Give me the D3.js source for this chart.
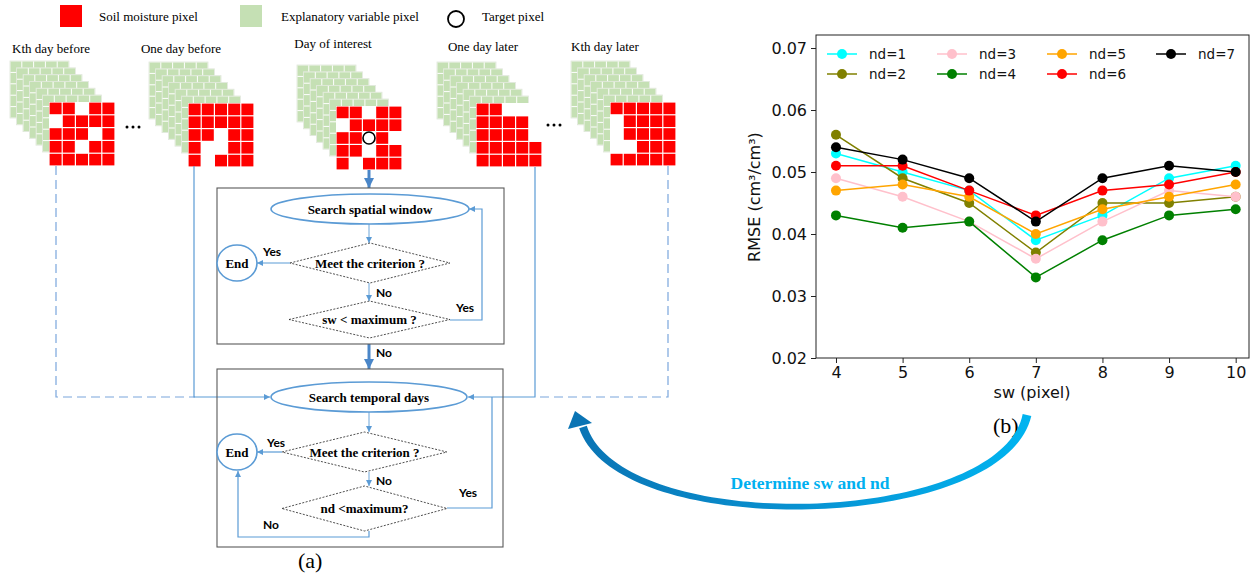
<!DOCTYPE html>
<html>
<head>
<meta charset="utf-8">
<script src="https://cdn.jsdelivr.net/npm/d3@7"></script>
<style>
  body { margin: 0; background: #fff; }
  svg { display: block; }
</style>
</head>
<body>
<svg id="fig" width="1252" height="578"></svg>
<script>
// ---- data for panel (b)
const sw = [4, 5, 6, 7, 8, 9, 10];
const ndLabels = ["nd=1", "nd=2", "nd=3", "nd=4", "nd=5", "nd=6", "nd=7"];
const ndColors = ["#00ffff", "#808000", "#ffc0cb", "#008000", "#ffa500", "#ff0000", "#000000"];
const rmseNd1 = [0.053, 0.050, 0.047, 0.039, 0.043, 0.049, 0.051];
const rmseNd2 = [0.056, 0.049, 0.045, 0.037, 0.045, 0.045, 0.046];
const rmseNd3 = [0.049, 0.046, 0.042, 0.036, 0.042, 0.047, 0.046];
const rmseNd4 = [0.043, 0.041, 0.042, 0.033, 0.039, 0.043, 0.044];
const rmseNd5 = [0.047, 0.048, 0.046, 0.040, 0.044, 0.046, 0.048];
const rmseNd6 = [0.051, 0.051, 0.047, 0.043, 0.047, 0.048, 0.050];
const rmseNd7 = [0.054, 0.052, 0.049, 0.042, 0.049, 0.051, 0.050];
const yTicks = [0.02, 0.03, 0.04, 0.05, 0.06, 0.07];

// ---- data for panel (a)
const dayLabels = ["Kth day before", "One day before", "Day of interest", "One day later", "Kth day later"];
// 1 = soil moisture pixel, 0 = empty
const smPatterns = [
  ["11011", "01111", "11101", "11011", "11111"],
  ["11111", "11111", "11011", "10011", "10111"],
  ["11011", "01111", "11010", "11011", "10111"],
  ["11000", "11110", "11110", "11111", "11111"],
  ["11111", "01111", "01111", "00111", "11111"]
];

const svg = d3.select("#fig");
const defs = svg.append("defs");
const blue = "#5b9bd5";
const serif = "'Liberation Serif', 'Times New Roman', serif";
const sans = "'DejaVu Sans', sans-serif";

defs.append("marker").attr("id", "ah")
  .attr("viewBox", "0 0 10 10").attr("refX", 10).attr("refY", 5)
  .attr("markerWidth", 6).attr("markerHeight", 6).attr("markerUnits", "userSpaceOnUse")
  .attr("orient", "auto")
  .append("path").attr("d", "M0,0L10,5L0,10z").attr("fill", blue);
defs.append("marker").attr("id", "ahBig")
  .attr("viewBox", "0 0 10 10").attr("refX", 10).attr("refY", 5)
  .attr("markerWidth", 11).attr("markerHeight", 10).attr("markerUnits", "userSpaceOnUse")
  .attr("orient", "auto")
  .append("path").attr("d", "M0,0L10,5L0,10z").attr("fill", "#4a86c8");

const line = d3.line();

// ================= panel (a)
const a = svg.append("g");

// legend on top
a.append("rect").attr("x", 60).attr("y", 5).attr("width", 22).attr("height", 22).attr("fill", "#ff0000");
a.append("rect").attr("x", 240).attr("y", 5).attr("width", 22).attr("height", 22).attr("fill", "#c5e0b4");
a.append("circle").attr("cx", 456).attr("cy", 19).attr("r", 8)
  .attr("fill", "none").attr("stroke", "#000").attr("stroke-width", 1.8);
a.selectAll("text.leg").data([[99, "Soil moisture pixel"], [281, "Explanatory variable pixel"], [482, "Target pixel"]])
  .join("text").attr("class", "leg")
  .attr("x", d => d[0]).attr("y", 21)
  .style("font", `13px ${serif}`).text(d => d[1]);

const labelX = [51, 181, 333, 483, 605];
const labelY = [53, 53, 48, 51, 51];
a.selectAll("text.day").data(dayLabels).join("text").attr("class", "day")
  .attr("x", (d, i) => labelX[i]).attr("y", (d, i) => labelY[i])
  .attr("text-anchor", "middle")
  .style("font", `13px ${serif}`).text(d => d);

const stackX = [49, 188, 336, 476, 610];
const stackY = [102, 103, 106, 103, 102];
const gW = 59, gH = 57, rW = 66, rH = 64;

smPatterns.forEach((pat, i) => {
  const st = a.append("g");
  for (let k = 0; k < 6; k++) {
    const gx = stackX[i] - 39 + k * 6.5, gy = stackY[i] - 41 + k * 6.8;
    st.append("rect").attr("x", gx).attr("y", gy).attr("width", gW).attr("height", gH)
      .attr("fill", "#fff").attr("stroke", "#dfe6da").attr("stroke-width", 0.8);
    for (let r = 0; r < 5; r++) for (let c = 0; c < 5; c++) {
      st.append("rect")
        .attr("x", gx + c * gW / 5 + 0.5).attr("y", gy + r * gH / 5 + 0.5)
        .attr("width", gW / 5 - 1).attr("height", gH / 5 - 1)
        .attr("fill", "#c5e0b4");
    }
  }
  const rx = stackX[i], ry = stackY[i];
  st.append("rect").attr("x", rx).attr("y", ry).attr("width", rW).attr("height", rH).attr("fill", "#fff");
  pat.forEach((row, r) => row.split("").forEach((v, c) => {
    if (v === "1") st.append("rect")
      .attr("x", rx + c * rW / 5 + 0.6).attr("y", ry + r * rH / 5 + 0.6)
      .attr("width", rW / 5 - 1.2).attr("height", rH / 5 - 1.2)
      .attr("fill", "#ff0000");
  }));
});
// target pixel
a.append("circle").attr("cx", stackX[2] + 2.5 * rW / 5).attr("cy", stackY[2] + 2.5 * rH / 5).attr("r", 6)
  .attr("fill", "none").attr("stroke", "#000").attr("stroke-width", 1.6);

// ellipsis dots
[[127, 127], [548, 125]].forEach(([dx, dy]) => {
  [0, 6, 12].forEach(o => a.append("circle").attr("cx", dx + o).attr("cy", dy).attr("r", 1.5).attr("fill", "#000"));
});

// connectors
function path(pts, opt = {}) {
  const p = a.append("path").attr("d", line(pts)).attr("fill", "none")
    .attr("stroke", opt.color || blue).attr("stroke-width", opt.width || 1.2);
  if (opt.dash) p.attr("stroke-dasharray", opt.dash);
  if (opt.arrow) p.attr("marker-end", `url(#${opt.arrow})`);
  return p;
}
path([[56, 166], [56, 397], [195, 397]], { dash: "9,5", color: "#7aa6dc" });
path([[194, 166], [194, 397], [270, 397]], { arrow: "ah" });
path([[535, 167], [535, 397], [468, 397]], { arrow: "ah" });
path([[668, 166], [668, 397], [535, 397]], { dash: "9,5", color: "#7aa6dc" });
path([[369, 170], [369, 188]], { width: 3, color: "#4a86c8", arrow: "ahBig" });
path([[369, 344], [369, 369]], { width: 3, color: "#4a86c8", arrow: "ahBig" });

// boxes
a.append("rect").attr("x", 217).attr("y", 188).attr("width", 287).attr("height", 156)
  .attr("fill", "none").attr("stroke", "#595959").attr("stroke-width", 1.1);
a.append("rect").attr("x", 217).attr("y", 369).attr("width", 286).attr("height", 178)
  .attr("fill", "none").attr("stroke", "#595959").attr("stroke-width", 1.1);

function ellipse(cx, cy, rx, ry, label) {
  a.append("ellipse").attr("cx", cx).attr("cy", cy).attr("rx", rx).attr("ry", ry)
    .attr("fill", "#fff").attr("stroke", blue).attr("stroke-width", 1.6);
  a.append("text").attr("x", cx).attr("y", cy).attr("dy", "0.35em").attr("text-anchor", "middle")
    .style("font", `bold 13px ${serif}`).text(label);
}
function diamond(l, t, r, b, label) {
  const cx = (l + r) / 2, cy = (t + b) / 2;
  a.append("path").attr("d", line([[l, cy], [cx, t], [r, cy], [cx, b]]) + "Z")
    .attr("fill", "#fff").attr("stroke", "#222").attr("stroke-width", 0.8).attr("stroke-dasharray", "2,1.5");
  a.append("text").attr("x", cx).attr("y", cy).attr("dy", "0.35em").attr("text-anchor", "middle")
    .style("font", `bold 13px ${serif}`).text(label);
}
function note(x, y, t) {
  a.append("text").attr("x", x).attr("y", y).style("font", "bold 12px Lato, sans-serif").text(t);
}

// spatial window loop
ellipse(370, 209, 99, 15, "Search spatial window");
path([[369, 224], [369, 243]], { arrow: "ah", width: 0.9 });
diamond(290, 243, 450, 283, "Meet the criterion ?");
ellipse(237, 263, 20, 18, "End");
path([[290, 263], [257, 263]], { arrow: "ah" });
note(263, 256, "Yes");
path([[369, 283], [369, 301]], { arrow: "ah", width: 0.9 });
note(376, 297, "No");
diamond(289, 301, 450, 338, "sw < maximum ?");
path([[450, 320], [482, 320], [482, 209], [469, 209]], { arrow: "ah" });
note(456, 312, "Yes");
note(376, 357, "No");

// temporal days loop
ellipse(369, 397, 98, 15, "Search temporal days");
path([[369, 412], [369, 432]], { arrow: "ah", width: 0.9 });
diamond(282, 432, 447, 472, "Meet the criterion ?");
ellipse(237, 452, 20, 18, "End");
path([[282, 452], [257, 452]], { arrow: "ah" });
note(267, 447, "Yes");
path([[369, 472], [369, 486]], { arrow: "ah", width: 0.9 });
note(376, 485, "No");
diamond(282, 486, 447, 531, "nd <maximum?");
path([[447, 508], [492, 508], [492, 397]]);
note(459, 497, "Yes");
path([[369, 531], [369, 537], [238, 537], [238, 471]], { arrow: "ah" });
note(263, 529, "No");

a.append("text").attr("x", 298).attr("y", 568).style("font", `22px ${serif}`).text("(a)");

// ================= panel (b)
const b = svg.append("g");
const x = d3.scaleLinear().domain([3.7, 10.2]).range([816, 1249]);
const y = d3.scaleLinear().domain([0.02, 0.0721]).range([358, 35]);

const series = [rmseNd1, rmseNd2, rmseNd3, rmseNd4, rmseNd5, rmseNd6, rmseNd7]
  .map((vals, i) => ({ name: ndLabels[i], color: ndColors[i], values: vals }));

const yAxis = b.append("g").attr("transform", "translate(816,0)")
  .call(d3.axisLeft(y).tickValues(yTicks).tickSize(5).tickPadding(4).tickFormat(d3.format(".2f")));
const xAxis = b.append("g").attr("transform", "translate(0,358)")
  .call(d3.axisBottom(x).tickValues(sw).tickSize(5).tickPadding(4).tickFormat(d3.format("d")));
[xAxis, yAxis].forEach(ax => {
  ax.select(".domain").remove();
  ax.selectAll("text").style("font", `16px ${sans}`).attr("fill", "#111");
  ax.selectAll("line").attr("stroke", "#222");
});

const pl = d3.line().x((d, i) => x(sw[i])).y(d => y(d));
series.forEach(s => {
  b.append("path").attr("d", pl(s.values)).attr("fill", "none")
    .attr("stroke", s.color).attr("stroke-width", 1.5);
  b.selectAll(null).data(s.values).join("circle")
    .attr("cx", (d, i) => x(sw[i])).attr("cy", d => y(d)).attr("r", 5)
    .attr("fill", s.color);
});

b.append("rect").attr("x", 816).attr("y", 35).attr("width", 433).attr("height", 323)
  .attr("fill", "none").attr("stroke", "#222").attr("stroke-width", 1);

// legend
const legX = [827, 937, 1047, 1156];
series.forEach((s, i) => {
  const lx = legX[Math.floor(i / 2)], ly = 54 + (i % 2) * 20;
  b.append("line").attr("x1", lx).attr("x2", lx + 30).attr("y1", ly).attr("y2", ly)
    .attr("stroke", s.color).attr("stroke-width", 1.5);
  b.append("circle").attr("cx", lx + 15).attr("cy", ly).attr("r", 5).attr("fill", s.color);
  b.append("text").attr("x", lx + 42).attr("y", ly).attr("dy", "0.35em")
    .style("font", `13.5px ${sans}`).attr("fill", "#111").text(s.name);
});

b.append("text").attr("x", 1032).attr("y", 398).attr("text-anchor", "middle")
  .style("font", `16px ${sans}`).attr("fill", "#111").text("sw (pixel)");
b.append("text").attr("transform", "translate(760,197) rotate(-90)").attr("text-anchor", "middle")
  .style("font", `16px ${sans}`).attr("fill", "#111")
  .text("RMSE (cm³/cm³)");
b.append("text").attr("x", 993).attr("y", 433).style("font", `22px ${serif}`).text("(b)");

// ================= curved arrow "Determine sw and nd"
const grad = defs.append("linearGradient").attr("id", "arcGrad")
  .attr("gradientUnits", "userSpaceOnUse").attr("x1", 575).attr("x2", 1030).attr("y1", 0).attr("y2", 0);
grad.append("stop").attr("offset", 0).attr("stop-color", "#0a74b4");
grad.append("stop").attr("offset", 0.5).attr("stop-color", "#0892d2");
grad.append("stop").attr("offset", 1).attr("stop-color", "#00b4f0");

const P = [[1027, 415], [1002, 530], [620, 540], [583, 427]];
function bez(t) {
  const u = 1 - t;
  return [0, 1].map(k => u * u * u * P[0][k] + 3 * u * u * t * P[1][k] + 3 * u * t * t * P[2][k] + t * t * t * P[3][k]);
}
const N = 80, upper = [], lower = [];
for (let i = 0; i <= N; i++) {
  const t = i / N, p = bez(t), q = bez(Math.min(1, t + 0.001)), q0 = bez(Math.max(0, t - 0.001));
  let dx = q[0] - q0[0], dy = q[1] - q0[1];
  const len = Math.hypot(dx, dy); dx /= len; dy /= len;
  const hw = 2.4 + 2.0 * Math.pow(1 - t, 3) + 1.6 * Math.pow(t, 3);
  upper.push([p[0] - dy * hw, p[1] + dx * hw]);
  lower.push([p[0] + dy * hw, p[1] - dx * hw]);
}
svg.append("path").attr("d", line(upper.concat(lower.reverse())) + "Z").attr("fill", "url(#arcGrad)");
svg.append("path").attr("d", line([[575, 411], [568, 429], [592, 423]]) + "Z").attr("fill", "#0a74b4");

svg.append("text").attr("x", 810).attr("y", 489).attr("text-anchor", "middle")
  .style("font", `bold 17.5px ${serif}`).attr("fill", "#00b0f0").text("Determine sw and nd");
</script>
</body>
</html>
